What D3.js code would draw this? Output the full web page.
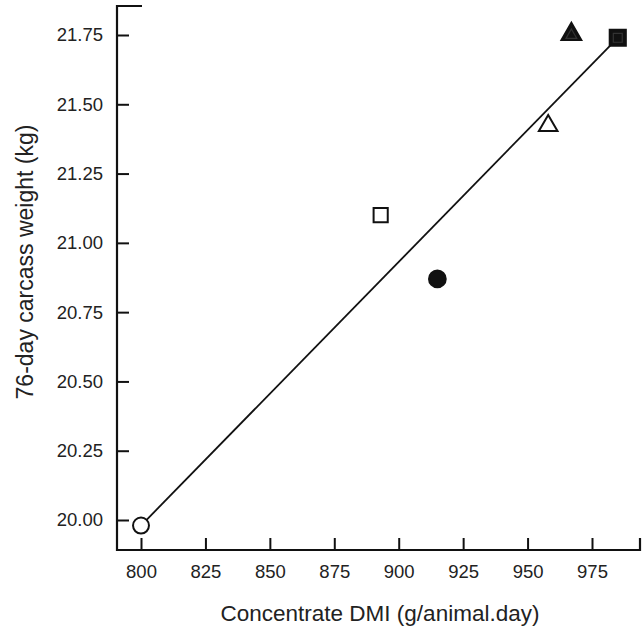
<!DOCTYPE html>
<html><head><meta charset="utf-8">
<script src="https://cdn.jsdelivr.net/npm/d3@7"></script>
<style>body{margin:0;background:#fff}svg{display:block}</style>
</head><body>
<svg id="c" width="643" height="631"></svg>
<script>
const dmi = [800, 893, 915, 958, 967, 985];
const weight = [19.98, 21.10, 20.87, 21.43, 21.76, 21.74];
const shapes = ["openCircle", "openSquare", "filledCircle", "openTriangle", "filledTriangle", "filledSquare"];
const fitX = [800, 985];
const fitY = [19.98, 21.74];
const xTicks = [800, 825, 850, 875, 900, 925, 950, 975];
const yTicks = [20.00, 20.25, 20.50, 20.75, 21.00, 21.25, 21.50, 21.75];
const xTitle = "Concentrate DMI (g/animal.day)";
const yTitle = "76-day carcass weight (kg)";

(function () {
const svg = d3.select("#c");
const mLeft = 117, mRight = 640, mTop = 6, mBottom = 550;
const x = d3.scaleLinear().domain([800, 975]).range([141, 592]);
const y = d3.scaleLinear().domain([20.0, 21.75]).range([520, 35]);
const font = "'Liberation Sans', Arial, sans-serif";

const gx = svg.append("g").attr("transform", `translate(0,${mBottom})`)
  .call(d3.axisBottom(x).tickValues(xTicks).tickFormat(d3.format("d")).tickSizeInner(-12).tickSizeOuter(0).tickPadding(15));
const gy = svg.append("g").attr("transform", `translate(${mLeft},0)`)
  .call(d3.axisLeft(y).tickValues(yTicks).tickFormat(d3.format(".2f")).tickSizeInner(-12).tickSizeOuter(0).tickPadding(14));
[gx, gy].forEach(g => {
  g.select(".domain").remove();
  g.selectAll(".tick line").attr("stroke", "#111").attr("stroke-width", 2);
  g.selectAll(".tick text").attr("font-family", font).attr("font-size", 18.5).attr("fill", "#222");
});
gx.selectAll(".tick text").attr("dy", "0.71em");
svg.append("path").attr("d", `M${mLeft+25},${mTop}H${mLeft}V${mBottom}H${mRight}V${mBottom-12}`)
  .attr("fill", "none").attr("stroke", "#111").attr("stroke-width", 2.2);

svg.append("line")
  .attr("x1", x(fitX[0])).attr("y1", y(fitY[0]))
  .attr("x2", x(fitX[1])).attr("y2", y(fitY[1]))
  .attr("stroke", "#111").attr("stroke-width", 1.8);

const sym = {
  openCircle: d3.symbolCircle, filledCircle: d3.symbolCircle,
  openSquare: d3.symbolSquare, filledSquare: d3.symbolSquare,
  openTriangle: d3.symbolTriangle, filledTriangle: d3.symbolTriangle
};
const size = { openCircle: 200, filledCircle: 220, openSquare: 200, filledSquare: 260, openTriangle: 150, filledTriangle: 170 };
const pts = svg.append("g").selectAll("g").data(dmi.map((d, i) => ({ x: d, y: weight[i], s: shapes[i] })))
  .join("g").attr("transform", d => `translate(${x(d.x)},${y(d.y)})`);
pts.append("path")
  .attr("d", d => d3.symbol(sym[d.s], size[d.s])())
  .attr("transform", d => d.s.includes("Triangle") ? "translate(0,2)" : null)
  .attr("fill", d => d.s.startsWith("open") ? "#fff" : "#111")
  .attr("stroke", "#111").attr("stroke-width", 2);
pts.filter(d => d.s === "filledSquare" || d.s === "filledTriangle").append("path")
  .attr("d", d => d3.symbol(sym[d.s], d.s === "filledSquare" ? 80 : 50)())
  .attr("transform", d => d.s.includes("Triangle") ? "translate(0,3)" : null)
  .attr("fill", "none").attr("stroke", "#333").attr("stroke-width", 1.2);

svg.append("text").attr("x", 380).attr("y", 621).attr("text-anchor", "middle")
  .attr("font-family", font).attr("font-size", 22.5).attr("fill", "#222").text(xTitle);
svg.append("text").attr("transform", "translate(33,262) rotate(-90)").attr("text-anchor", "middle")
  .attr("font-family", font).attr("font-size", 23).attr("fill", "#222").text(yTitle);
})();
</script>
</body></html>
